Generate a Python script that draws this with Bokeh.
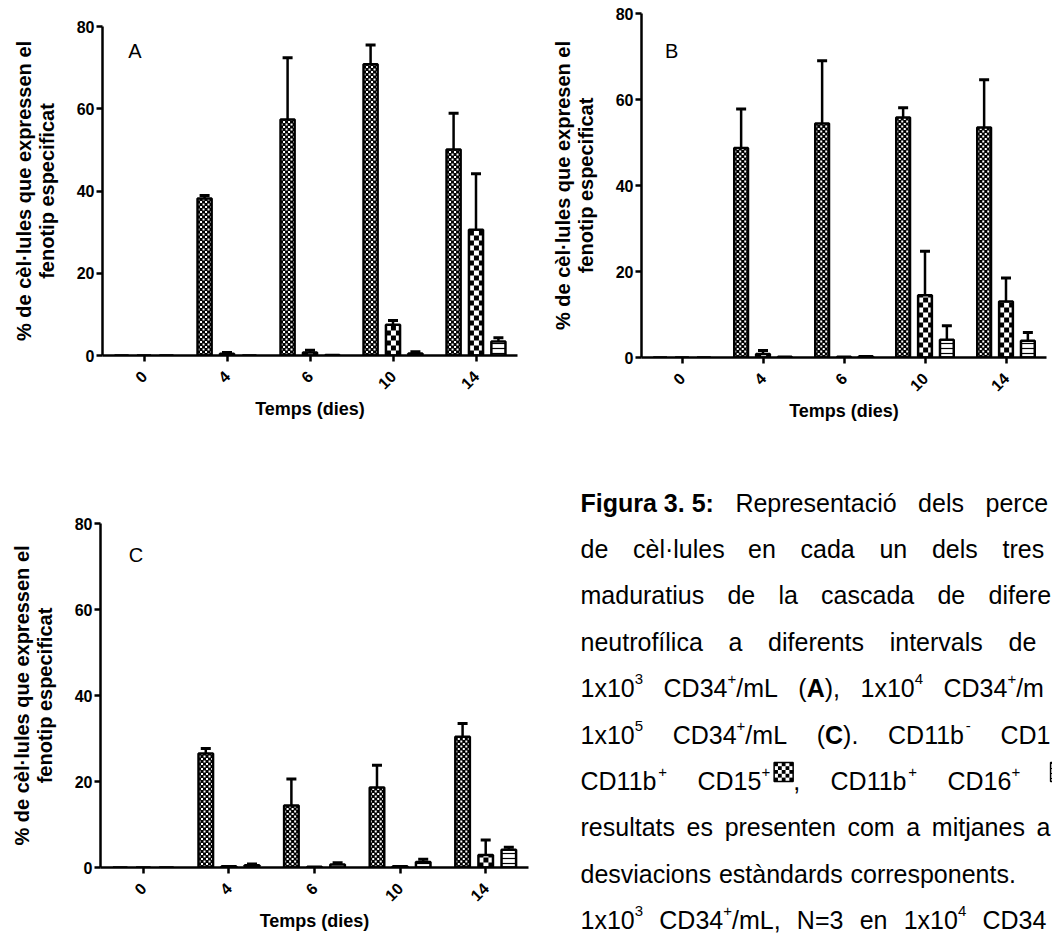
import math
from bokeh.plotting import figure
from bokeh.models import (ColumnDataSource, FactorRange, Range1d, FixedTicker,
                          Whisker, TeeHead, Label)
from bokeh.transform import dodge
from bokeh.layouts import column, row
from bokeh.core.properties import value
from bokeh.embed import file_html
from bokeh.resources import INLINE

# ---------------- data ----------------
DAYS = ["0", "4", "6", "10", "14"]
SERIES = ["CD11b- CD15+", "CD11b+ CD15+", "CD11b+ CD16+"]

A_S1 = [0, 38.2, 57.4, 70.8, 50.1]
A_E1 = [0, 0.7, 15.0, 4.7, 8.8]
A_S2 = [0, 0.4, 0.7, 7.5, 30.6]
A_E2 = [0, 0.3, 0.6, 1.0, 13.6]
A_S3 = [0, 0.0, 0.1, 0.5, 3.4]
A_E3 = [0, 0.0, 0.0, 0.4, 0.9]

B_S1 = [0, 48.7, 54.4, 55.8, 53.5]
B_E1 = [0, 9.1, 14.6, 2.3, 11.1]
B_S2 = [0, 0.8, 0.2, 14.5, 13.0]
B_E2 = [0, 0.8, 0.0, 10.2, 5.5]
B_S3 = [0, 0.2, 0.3, 4.1, 3.9]
B_E3 = [0, 0.0, 0.0, 3.3, 1.9]

C_S1 = [0, 26.5, 14.4, 18.6, 30.4]
C_E1 = [0, 1.2, 6.2, 5.2, 3.1]
C_S2 = [0, 0.3, 0.2, 0.3, 2.9]
C_E2 = [0, 0.0, 0.0, 0.0, 3.5]
C_S3 = [0, 0.5, 0.7, 1.3, 4.1]
C_E3 = [0, 0.3, 0.4, 0.6, 0.6]

Y_TICKS = [0, 20, 40, 60, 80]
X_LABEL = "Temps (dies)"
Y_LABEL_AC = "% de cèl·lules que expressen el\nfenotip especificat"
Y_LABEL_B = "% de cèl·lules que expresen el\nfenotip especificat"

FONT = "Liberation Sans"

OFFS = [-0.27, 0.0, 0.27]
BW = 0.17
# checker texture of series 1 and 2: (cell px, square px, background, square colour)
CHECK = [(2.5, 2.0, "black", "white"), (5.0, 5.0, "white", "black")]


def checker_cells(vals, k, fw, fh, cell, sq):
    """Checker squares filling each bar of series k (pattern texture)."""
    ppx = fw / len(DAYS)
    ppy = fh / 80.0
    L, R, T, Bt = [], [], [], []
    for i, v in enumerate(vals):
        if v <= 0:
            continue
        cx = i + 0.5 + OFFS[k]
        x0, x1 = cx - BW / 2, cx + BW / 2
        ncol = int(math.ceil((x1 - x0) * ppx / cell))
        nrow = int(math.ceil(v * ppy / cell))
        for r in range(nrow):
            b = r * cell / ppy
            t = min(b + sq / ppy, v)
            for c in range(ncol):
                if (r + c) % 2:
                    continue
                l = x0 + c * cell / ppx
                rr = min(l + sq / ppx, x1)
                if rr > l and t > b:
                    L.append(l); R.append(rr); T.append(t); Bt.append(b)
    return dict(left=L, right=R, top=T, bottom=Bt)


def panel(w, h, borders, vals, errs, ylabel, letter, lx, ly):
    bl, br, bt, bb = borders
    fw, fh = w - bl - br, h - bt - bb
    p = figure(width=w, height=h, x_range=FactorRange(factors=DAYS), y_range=Range1d(0, 80),
               output_backend="svg", toolbar_location=None, frame_align=False,
               min_border_left=bl, min_border_right=br, min_border_top=bt, min_border_bottom=bb)
    p.outline_line_color = None
    p.xgrid.grid_line_color = None
    p.ygrid.grid_line_color = None
    for k in range(3):
        src = ColumnDataSource(dict(day=DAYS, val=vals[k]))
        xk = dodge("day", OFFS[k], range=p.x_range)
        if k < 2:
            cell, sq, bg, fg = CHECK[k]
            p.vbar(x=xk, top="val", width=BW, source=src, fill_color=bg, line_color=None)
            p.quad(left="left", right="right", top="top", bottom="bottom",
                   source=ColumnDataSource(checker_cells(vals[k], k, fw, fh, cell, sq)),
                   fill_color=fg, line_color=None)
            p.vbar(x=xk, top="val", width=BW, source=src, fill_color=None,
                   line_color="black", line_width=2.5)
        else:
            p.vbar(x=xk, top="val", width=BW, source=src, fill_color="white",
                   line_color="black", line_width=2.5, hatch_pattern=value("horizontal_line"),
                   hatch_scale=5, hatch_weight=1.2, hatch_color="black")
    for k in range(3):
        rows = [i for i in range(len(DAYS)) if errs[k][i] > 0]
        wsrc = ColumnDataSource(dict(day=[DAYS[i] for i in rows],
                                     lo=[vals[k][i] for i in rows],
                                     hi=[vals[k][i] + errs[k][i] for i in rows]))
        p.add_layout(Whisker(source=wsrc, base=dodge("day", OFFS[k], range=p.x_range),
                             lower="lo", upper="hi", dimension="height",
                             line_color="black", line_width=2.5, lower_head=None,
                             upper_head=TeeHead(size=10, line_width=3, line_color="black")))
    p.yaxis.ticker = FixedTicker(ticks=Y_TICKS)
    for ax in (p.xaxis[0], p.yaxis[0]):
        ax.axis_line_width = 2.5
        ax.axis_line_color = "black"
        ax.major_tick_line_width = 2.5
        ax.major_tick_line_color = "black"
        ax.major_tick_out = 6
        ax.major_tick_in = 0
        ax.minor_tick_line_color = None
        ax.major_label_text_font = FONT
        ax.major_label_text_font_style = "bold"
        ax.major_label_text_font_size = "16px"
        ax.major_label_text_color = "black"
        ax.axis_label_text_font = FONT
        ax.axis_label_text_font_style = "bold"
        ax.axis_label_text_color = "black"
    p.xaxis.major_label_orientation = math.pi / 4
    p.xaxis.axis_label = X_LABEL
    p.xaxis.axis_label_text_font_size = "18px"
    p.xaxis.major_label_standoff = 12
    p.xaxis.axis_label_standoff = 1
    p.yaxis.axis_label = ylabel
    p.yaxis.axis_label_text_font_size = "20px"
    p.yaxis.axis_label_text_line_height = 1.05
    p.yaxis.major_label_standoff = 2
    p.yaxis.axis_label_standoff = 16
    p.add_layout(Label(x=lx, y=ly, text=letter, text_font=FONT, text_font_size="20px",
                       text_baseline="middle", text_align="left", text_color="black"))
    return p


pA = panel(520, 440, (102, 3, 26, 85), [A_S1, A_S2, A_S3], [A_E1, A_E2, A_E3],
           Y_LABEL_AC, "A", 0.31, 74.0)
pB = panel(532, 440, (121, 6, 13, 83), [B_S1, B_S2, B_S3], [B_E1, B_E2, B_E3],
           Y_LABEL_B, "B", 0.29, 71.3)
pC = panel(530, 493, (100, 2, 83, 66), [C_S1, C_S2, C_S3], [C_E1, C_E2, C_E3],
           Y_LABEL_AC, "C", 0.33, 72.6)

# ---------------- caption ----------------
AR = {}
for chars, wv in [(" ", 278), ("()", 333), ("+=", 584), (",.:/", 278), ("-", 333),
                  ("0123456789", 556), ("ABEKPSVXY", 667), ("CDHNRU", 722), ("L", 556),
                  ("abdeghnopqu", 556), ("cksvxyz", 500), ("ft", 278), ("ijl", 222),
                  ("m", 833), ("r", 333), ("w", 722), ("àèéóòú", 556), ("í", 278), ("·", 278)]:
    for ch in chars:
        AR[ch] = wv
AB = {}
for chars, wv in [(" ", 278), (".", 278), (":", 333), ("()", 333), ("0123456789", 556),
                  ("ABC", 722), ("F", 611), ("a", 556), ("g", 611), ("i", 278), ("r", 389), ("u", 611)]:
    for ch in chars:
        AB[ch] = wv

FS = 25
SUP = 15
SUP_RISE = 9
ICON_W = 19
ICON_GAP = {"c2": 4, "hl": 0}
X0 = 580
BASE0, LEAD = 502, 46.4

CAP_LINES = [
    [[("Figura 3. 5:", "b")], [("Representació", "r")], [("dels", "r")], [("perce", "r")]],
    [[("de", "r")], [("cèl·lules", "r")], [("en", "r")], [("cada", "r")], [("un", "r")],
     [("dels", "r")], [("tres", "r")]],
    [[("maduratius", "r")], [("de", "r")], [("la", "r")], [("cascada", "r")], [("de", "r")],
     [("difere", "r")]],
    [[("neutrofílica", "r")], [("a", "r")], [("diferents", "r")], [("intervals", "r")], [("de", "r")]],
    [[("1x10", "r"), ("3", "s")], [("CD34", "r"), ("+", "s"), ("/mL", "r")],
     [("(", "r"), ("A", "b"), ("),", "r")], [("1x10", "r"), ("4", "s")],
     [("CD34", "r"), ("+", "s"), ("/m", "r")]],
    [[("1x10", "r"), ("5", "s")], [("CD34", "r"), ("+", "s"), ("/mL", "r")],
     [("(", "r"), ("C", "b"), (").", "r")], [("CD11b", "r"), ("-", "s")], [("CD1", "r")]],
    [[("CD11b", "r"), ("+", "s")], [("CD15", "r"), ("+", "s"), ("c2", "i"), (",", "r")],
     [("CD11b", "r"), ("+", "s")], [("CD16", "r"), ("+", "s")], [("hl", "i")]],
    [[("resultats", "r")], [("es", "r")], [("presenten", "r")], [("com", "r")], [("a", "r")],
     [("mitjanes", "r")], [("a", "r")]],
    [[("desviacions", "r")], [("estàndards", "r")], [("corresponents.", "r")]],
    [[("1x10", "r"), ("3", "s")], [("CD34", "r"), ("+", "s"), ("/mL,", "r")], [("N=3", "r")],
     [("en", "r")], [("1x10", "r"), ("4", "s")], [("CD34", "r")]],
]
CAP_ANCHORS = [(3, 985), (6, 1002), (5, 988), (4, 1008), (4, 943), (4, 1000), (3, 947),
               (6, 1036), (2, 850), (5, 982)]


def seg_w(t, st):
    if st == "i":
        return ICON_W + ICON_GAP[t]
    if st == "s":
        return sum(AR.get(c, 556) for c in t) * SUP / 1000
    tbl = AB if st == "b" else AR
    return sum(tbl.get(c, 556) for c in t) * FS / 1000


def word_w(wd):
    return sum(seg_w(t, st) for t, st in wd)


CX0 = 530
CY0 = 933
txt = {"r": dict(x=[], y=[], t=[]), "b": dict(x=[], y=[], t=[]), "s": dict(x=[], y=[], t=[])}
icons = {"c2": dict(x=[], y=[]), "hl": dict(x=[], y=[])}
for li, (words, (ai, ax_)) in enumerate(zip(CAP_LINES, CAP_ANCHORS)):
    base = BASE0 + LEAD * li
    widths = [word_w(wd) for wd in words]
    gap = (ax_ - X0 - sum(widths[:ai])) / ai
    cx = X0
    for wd, ww in zip(words, widths):
        sx = cx
        for t, st in wd:
            if st == "i":
                icons[t]["x"].append(sx + ICON_GAP[t] + ICON_W / 2 - CX0)
                icons[t]["y"].append(CY0 - (base - 9))
            elif st == "s":
                txt["s"]["x"].append(sx - CX0)
                txt["s"]["y"].append(CY0 - base + SUP_RISE)
                txt["s"]["t"].append(t)
            else:
                txt[st]["x"].append(sx - CX0)
                txt[st]["y"].append(CY0 - base)
                txt[st]["t"].append(t)
            sx += seg_w(t, st)
        cx += ww + gap

# checker squares inside the legend icon
ic = dict(left=[], right=[], top=[], bottom=[])
ICON_CELLS = 5
for x, y in zip(icons["c2"]["x"], icons["c2"]["y"]):
    cs = ICON_W / ICON_CELLS
    for r in range(ICON_CELLS):
        for c in range(ICON_CELLS):
            if (r + c) % 2:
                continue
            ic["left"].append(x - ICON_W / 2 + c * cs)
            ic["right"].append(x - ICON_W / 2 + (c + 1) * cs)
            ic["bottom"].append(y - ICON_W / 2 + r * cs)
            ic["top"].append(y - ICON_W / 2 + (r + 1) * cs)

pcap = figure(width=522, height=493, x_range=Range1d(0, 522), y_range=Range1d(0, 493),
              output_backend="svg", toolbar_location=None, min_border=0, frame_align=False,
              x_axis_location=None, y_axis_location=None)
pcap.outline_line_color = None
for g in pcap.grid:
    g.grid_line_color = None
for st, size, style in [("r", FS, "normal"), ("b", FS, "bold"), ("s", SUP, "normal")]:
    pcap.text(x="x", y="y", text="t", source=ColumnDataSource(txt[st]),
              text_font=value(FONT), text_font_size=value(f"{size}px"),
              text_font_style=value(style), text_baseline=value("alphabetic"),
              text_align=value("left"), text_color="black")
pcap.rect(x="x", y="y", width=ICON_W, height=ICON_W, source=ColumnDataSource(icons["c2"]),
          fill_color="white", line_color=None)
pcap.quad(left="left", right="right", top="top", bottom="bottom", source=ColumnDataSource(ic),
          fill_color="black", line_color=None)
pcap.rect(x="x", y="y", width=ICON_W, height=ICON_W, source=ColumnDataSource(icons["c2"]),
          fill_color=None, line_color="black", line_width=1.5)
pcap.rect(x="x", y="y", width=ICON_W, height=ICON_W, source=ColumnDataSource(icons["hl"]),
          fill_color="white", line_color="black", line_width=1.5,
          hatch_pattern=value("horizontal_line"), hatch_scale=5, hatch_color="black")

layout = column(row(pA, pB), row(pC, pcap))
open("out.html", "w").write(file_html(layout, INLINE))
